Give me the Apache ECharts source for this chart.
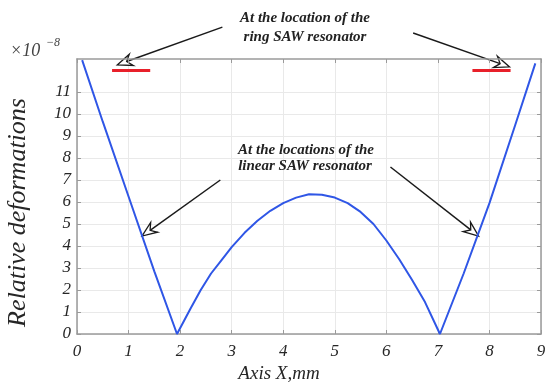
<!DOCTYPE html>
<html>
<head>
<meta charset="utf-8">
<script src="https://cdn.jsdelivr.net/npm/echarts@6/dist/echarts.min.js"></script>
<style>html,body{margin:0;padding:0;background:#fff;}#c{width:550px;height:385px;}</style>
</head>
<body>
<div id="c"></div>
<script>
// Axis X, mm
const xValues = [0.1, 0.5, 1.0, 1.5, 1.94, 2.2, 2.4, 2.6, 2.8, 3.0, 3.25, 3.5, 3.75, 4.0, 4.25, 4.5, 4.75, 5.0, 5.25, 5.5, 5.75, 6.0, 6.25, 6.5, 6.75, 7.04, 7.5, 8.0, 8.5, 8.89];
// Relative deformations, x10^-8
const yValues = [12.45, 9.65, 6.25, 2.85, 0, 1.15, 2.0, 2.75, 3.35, 3.95, 4.6, 5.15, 5.6, 5.95, 6.2, 6.35, 6.33, 6.2, 5.95, 5.55, 5.0, 4.25, 3.4, 2.45, 1.45, 0, 2.75, 5.95, 9.5, 12.3];
const xTicks = [0, 1, 2, 3, 4, 5, 6, 7, 8, 9];
const yTicks = [0, 1, 2, 3, 4, 5, 6, 7, 8, 9, 10, 11];
// resonator location bars [x1, x2, y]
const ringBars = [[0.68, 1.42, 12.0], [7.67, 8.41, 12.0]];
// annotation arrows [tailX, tailY, tipX, tipY]
const ringArrows = [[2.82, 13.95, 0.78, 12.23], [6.52, 13.68, 8.39, 12.14]];
const linearArrows = [[2.78, 7.0, 1.26, 4.45], [6.08, 7.59, 7.79, 4.45]];

const seriesData = xValues.map((x, i) => [x, yValues[i]]);
const labelFont = { fontFamily: 'Liberation Serif', fontStyle: 'italic', fontSize: 17, color: '#262626' };
const frameColor = '#9a9a9a';

const markData = [];
ringBars.forEach(b => markData.push([
  { coord: [b[0], b[2]], symbol: 'none', lineStyle: { color: '#e8202a', width: 3, type: 'solid' } },
  { coord: [b[1], b[2]], symbol: 'none' }
]));

const chart = echarts.init(document.getElementById('c'), null, { renderer: 'canvas' });
chart.setOption({
  animation: false,
  grid: { left: 77, right: 9, top: 59, bottom: 51, containLabel: false, outerBoundsMode: 'none' },
  xAxis: [{
    type: 'value', min: 0, max: 9, interval: 1, position: 'bottom',
    name: 'Axis X,mm', nameLocation: 'middle', nameGap: 29,
    nameTextStyle: { fontFamily: 'Liberation Serif', fontStyle: 'italic', fontSize: 19, color: '#262626', padding: [0, 60, 0, 0] },
    axisLine: { show: true, onZero: false, lineStyle: { color: frameColor, width: 1.5 } },
    axisTick: { show: true, inside: true, length: 4, lineStyle: { color: frameColor } },
    axisLabel: Object.assign({ margin: 9, customValues: xTicks }, labelFont),
    splitLine: { show: true, lineStyle: { color: '#e9e9e9', width: 1 } }
  }, {
    type: 'value', min: 0, max: 9, interval: 1, position: 'top',
    axisLine: { show: true, onZero: false, lineStyle: { color: frameColor, width: 1.5 } },
    axisTick: { show: true, inside: true, length: 4, lineStyle: { color: frameColor } },
    axisLabel: { show: false }, splitLine: { show: false }
  }],
  yAxis: [{
    type: 'value', min: 0, max: 12.5, position: 'left',
    name: 'Relative deformations', nameLocation: 'middle', nameGap: 46, nameRotate: 90,
    nameTextStyle: { fontFamily: 'Liberation Serif', fontStyle: 'italic', fontSize: 26, color: '#262626', padding: [0, 32, 0, 0] },
    axisLine: { show: true, onZero: false, lineStyle: { color: frameColor, width: 1.5 } },
    axisTick: { show: true, inside: true, length: 4, customValues: yTicks, lineStyle: { color: frameColor } },
    axisLabel: Object.assign({ margin: 6, customValues: yTicks }, labelFont),
    splitLine: { show: true, lineStyle: { color: '#e9e9e9', width: 1 } }
  }, {
    type: 'value', min: 0, max: 12.5, position: 'right',
    axisLine: { show: true, onZero: false, lineStyle: { color: frameColor, width: 1.5 } },
    axisTick: { show: true, inside: true, length: 4, customValues: yTicks, lineStyle: { color: frameColor } },
    axisLabel: { show: false }, splitLine: { show: false }
  }],
  series: [{
    type: 'line', xAxisIndex: 0, yAxisIndex: 0, data: seriesData,
    showSymbol: false, symbol: 'none', clip: false,
    lineStyle: { color: '#2f56e6', width: 2 },
    markLine: { silent: true, animation: false, label: { show: false }, data: markData }
  }]
});

// annotation arrows (positions converted from data coordinates)
const graphics = [
  { type: 'text', left: 10, top: 42, style: { text: '×10', font: 'italic 18px "Liberation Serif"', fill: '#444' } },
  { type: 'text', left: 46, top: 37, style: { text: '−8', font: 'italic 12px "Liberation Serif"', fill: '#444' } },
  { type: 'text', x: 305, y: 18, style: { text: 'At the location of the', font: 'italic bold 15px "Liberation Serif"', fill: '#222', align: 'center', verticalAlign: 'middle' } },
  { type: 'text', x: 305, y: 37, style: { text: 'ring SAW resonator', font: 'italic bold 15px "Liberation Serif"', fill: '#222', align: 'center', verticalAlign: 'middle' } },
  { type: 'text', x: 306, y: 150, style: { text: 'At the locations of the', font: 'italic bold 15px "Liberation Serif"', fill: '#222', align: 'center', verticalAlign: 'middle' } },
  { type: 'text', x: 305, y: 166, style: { text: 'linear SAW resonator', font: 'italic bold 15px "Liberation Serif"', fill: '#222', align: 'center', verticalAlign: 'middle' } }
];
ringArrows.concat(linearArrows).forEach(a => {
  const p0 = chart.convertToPixel({ xAxisIndex: 0, yAxisIndex: 0 }, [a[0], a[1]]);
  const p1 = chart.convertToPixel({ xAxisIndex: 0, yAxisIndex: 0 }, [a[2], a[3]]);
  const dx = p1[0] - p0[0], dy = p1[1] - p0[1];
  const len = Math.sqrt(dx * dx + dy * dy);
  const ux = dx / len, uy = dy / len;
  const hl = 15, hw = 6, back = 10;
  const bx = p1[0] - ux * hl, by = p1[1] - uy * hl;
  const nx = p1[0] - ux * back, ny = p1[1] - uy * back;
  graphics.push({ type: 'line', silent: true, shape: { x1: p0[0], y1: p0[1], x2: nx, y2: ny }, style: { stroke: '#1a1a1a', lineWidth: 1.5 } });
  graphics.push({ type: 'polygon', silent: true, shape: { points: [
    [p1[0], p1[1]], [bx - uy * hw, by + ux * hw], [nx, ny], [bx + uy * hw, by - ux * hw]
  ] }, style: { fill: '#fff', stroke: '#1a1a1a', lineWidth: 1.3 } });
});
chart.setOption({ graphic: graphics });
</script>
</body>
</html>
